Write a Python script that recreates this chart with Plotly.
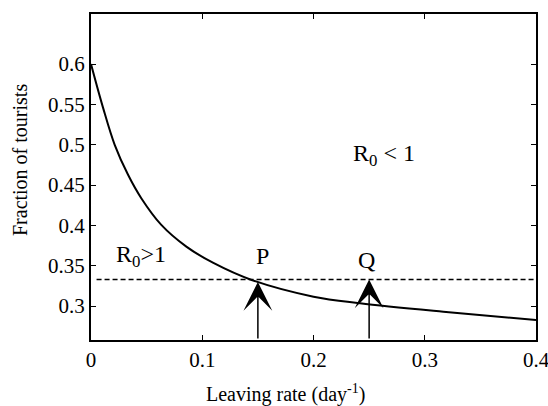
import plotly.graph_objects as go

# Data
leave_rate = [0, 0.0108, 0.0213, 0.0333, 0.0452, 0.0632, 0.0857, 0.11, 0.1444, 0.2, 0.2418, 0.3167, 0.4]
fraction = [0.6, 0.546, 0.4999, 0.4627, 0.4337, 0.4006, 0.3737, 0.3535, 0.3324, 0.3117, 0.3035, 0.293, 0.2828]
thresh_x = [0.005, 0.4]
thresh_y = [0.333, 0.333]
arrow_x = [0.15, 0.25]
arrow_tip = [0.330, 0.333]
arrow_base = 0.258
x_ticks = [0, 0.1, 0.2, 0.3, 0.4]
y_ticks = [0.3, 0.35, 0.4, 0.45, 0.5, 0.55, 0.6]

FONT = "Liberation Serif"

fig = go.Figure()
fig.add_trace(go.Scatter(x=leave_rate, y=fraction, mode="lines",
                         line=dict(color="black", width=2, shape="spline", smoothing=1),
                         showlegend=False, hoverinfo="skip", cliponaxis=False))
fig.add_trace(go.Scatter(x=thresh_x, y=thresh_y, mode="lines",
                         line=dict(color="black", width=1.5, dash="5px,3px"),
                         showlegend=False, hoverinfo="skip"))

annotations = []
for ax_, tip in zip(arrow_x, arrow_tip):
    annotations.append(dict(x=ax_, y=tip, ax=ax_, ay=arrow_base, xref="x", yref="y",
                            axref="x", ayref="y", text="", showarrow=True,
                            arrowhead=3, arrowsize=3.2, arrowwidth=1.5, arrowcolor="black"))

labels = [
    ("R<sub>0</sub>>1", 0.021, 0.362, "left", 24),
    ("R<sub>0</sub> &lt; 1", 0.234, 0.487, "left", 24),
    ("P", 0.154, 0.362, "center", 24),
    ("Q", 0.248, 0.357, "center", 24),
]
for txt, x, y, xa, sz in labels:
    annotations.append(dict(x=x, y=y, xref="x", yref="y", text=txt, showarrow=False,
                            xanchor=xa, yanchor="middle",
                            font=dict(family=FONT, size=sz, color="black")))

annotations.append(dict(x=0.436, y=-0.1626, xref="paper", yref="paper",
                        text="Leaving rate (day<sup>-1</sup>)", showarrow=False,
                        xanchor="center", yanchor="middle",
                        font=dict(family=FONT, size=20, color="black")))
annotations.append(dict(x=-0.1596, y=0.552, xref="paper", yref="paper",
                        text="Fraction of tourists", showarrow=False, textangle=-90,
                        xanchor="center", yanchor="middle",
                        font=dict(family=FONT, size=20, color="black")))

axis_common = dict(showgrid=False, zeroline=False, showline=True, linecolor="black",
                   linewidth=2, mirror="ticks", ticks="inside", ticklen=5,
                   tickcolor="black", tickwidth=1, automargin=False,
                   ticklabeloverflow="allow",
                   tickfont=dict(family=FONT, size=21, color="black"))

fig.update_layout(
    width=548, height=406, autosize=False,
    margin=dict(l=91, r=12, t=14, b=66, autoexpand=False),
    paper_bgcolor="white", plot_bgcolor="white",
    font=dict(family=FONT, color="black"),
    xaxis=dict(range=[0, 0.4], tickvals=x_ticks, ticktext=[str(v) for v in x_ticks], **axis_common),
    yaxis=dict(range=[0.258, 0.662], tickvals=y_ticks, ticktext=[str(v) for v in y_ticks], **axis_common),
    annotations=annotations,
)

fig.write_html("out.html",
               config={"responsive": False, "displayModeBar": False},
               post_script="document.documentElement.style.overflow='hidden';document.body.style.margin='0';document.body.style.overflow='hidden';")
